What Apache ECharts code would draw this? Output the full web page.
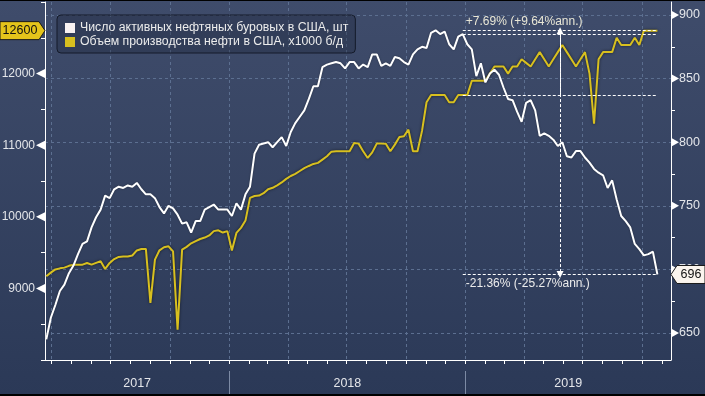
<!DOCTYPE html>
<html>
<head>
<meta charset="utf-8">
<script src="https://cdn.jsdelivr.net/npm/echarts@6/dist/echarts.min.js"></script>
<style>
html,body{margin:0;padding:0;background:#2c3a57;}
#c{width:705px;height:396px;}
</style>
</head>
<body>
<div id="c"></div>
<script>
// ---------------- DATA ----------------
const rigName = 'Число активных нефтяных буровых в США, шт';
const prodName = 'Объем производства нефти в США, x1000 б/д';
// weekly observations (Fridays) starting 2017-03-24
const firstWeek = [2017, 2, 24];
const rigs = [
  645, 662, 672, 683, 688, 697, 703, 712, 720, 722,
  733, 741, 747, 758, 756, 763, 765, 764, 766, 765,
  768, 763, 759, 759, 756, 749, 744, 750, 748, 743,
  736, 737, 729, 738, 738, 747, 749, 751, 747, 747,
  747, 742, 752, 747, 759, 765, 791, 798, 799, 800,
  796, 800, 804, 797, 808, 815, 820, 825, 834, 844,
  844, 859, 861, 862, 863, 862, 858, 863, 863, 858,
  861, 859, 869, 869, 860, 862, 860, 867, 866, 863,
  861, 869, 873, 875, 874, 886, 888, 885, 887, 877,
  873, 883, 885, 877, 873, 852, 862, 847, 854, 857,
  853, 843, 834, 833, 824, 816, 831, 833, 825, 805,
  807, 805, 802, 797, 800, 789, 788, 793, 793, 788,
  784, 779, 776, 774, 764, 770, 755, 742, 738, 733,
  720, 716, 711, 712, 714, 696
];
const production = [
  9170, 9220, 9265, 9280, 9290, 9315, 9330, 9330, 9332, 9355,
  9332, 9356, 9379, 9272, 9356, 9410, 9440, 9445, 9445, 9460,
  9530, 9551, 9551, 8798, 9402, 9532, 9575, 9588, 9518, 8425,
  9542, 9580, 9630, 9660, 9690, 9710, 9740, 9800, 9811, 9780,
  9800, 9528, 9775, 9845, 9947, 10264, 10290, 10296, 10330, 10385,
  10405, 10440, 10480, 10530, 10570, 10600, 10640, 10680, 10710, 10738,
  10753, 10799, 10845, 10910, 10915, 10915, 10915, 10915, 11030, 11022,
  10915, 10822, 10900, 11022, 11022, 11020, 10915, 11008, 11116, 11125,
  11218, 10915, 10915, 11200, 11600, 11700, 11700, 11700, 11700, 11600,
  11600, 11700, 11700, 11700, 11900, 11900, 11900, 11900, 12000, 12100,
  12100, 12100, 12000, 12100, 12100, 12200, 12150, 12100, 12200, 12300,
  12200, 12100, 12200, 12300, 12400, 12300, 12200, 12100, 12200, 12300,
  12000, 11300, 12200, 12300, 12300, 12300, 12500, 12400, 12400, 12400,
  12500, 12400, 12600, 12600, 12600, 12600
];
const leftMajorTicks = [9000, 10000, 11000, 12000];
const rightMajorTicks = [650, 700, 750, 800, 850, 900];
const yearLabels = ['2017', '2018', '2019'];
const axisStart = [2017, 2, 22];
const axisEnd = [2019, 10, 15];
const trendStartIndex = 92;   // 2018-12-28
const trendUpText = '+7.69% (+9.64%ann.)';
const trendDownText = '-21.36% (-25.27%ann.)';

// ---------------- LAYOUT / STYLE ----------------
const FONT = 'Liberation Sans, Arial, sans-serif';
const W = 705, H = 396;
const G = {left: 45, right: 34, top: 2, bottom: 36};          // main plot
const G2 = {left: 45, right: 34, top: 15, bottom: 63};        // right tick overlay (650..900)
const plotTop = G.top, plotBottom = H - G.bottom;
const g2Top = G2.top, g2Bottom = H - G2.bottom;
const rPerPx = 250 / (g2Bottom - g2Top);
const rightMin = 650 - (plotBottom - g2Bottom) * rPerPx;
const rightMax = 900 + (g2Top - plotTop) * rPerPx;
const YELLOW = '#d8c01f';
const GRIDC = '#5c6f90';
const LABELC = '#e4e6ea';

const weeks = rigs.map((_, i) => new Date(firstWeek[0], firstWeek[1], firstWeek[2] + 7 * i).getTime());
const xMin = new Date(axisStart[0], axisStart[1], axisStart[2]).getTime();
const xMax = new Date(axisEnd[0], axisEnd[1], axisEnd[2]).getTime();
const last = rigs.length - 1;
const t0 = weeks[trendStartIndex], t1 = weeks[last], tm = (t0 + t1) / 2;

const chart = echarts.init(document.getElementById('c'), null, {renderer: 'canvas'});

const dashed = {color: '#ffffff', width: 1, type: [3, 2]};
const option = {
  animation: false,
  backgroundColor: {type: 'linear', x: 0, y: 0, x2: 0, y2: 1,
    colorStops: [{offset: 0, color: '#3f4c6b'}, {offset: 1, color: '#2b3957'}]},
  textStyle: {fontFamily: FONT},
  grid: [
    Object.assign({outerBoundsMode: 'none', containLabel: false}, G),
    Object.assign({outerBoundsMode: 'none', containLabel: false}, G2)
  ],
  legend: {
    orient: 'vertical', left: 57, top: 15,
    padding: [7, 7, 5, 8], itemWidth: 10, itemHeight: 10, itemGap: 2, itemTextGap: 5,
    icon: 'rect', data: [rigName, prodName],
    textStyle: {color: '#ececec', fontSize: 12.3, fontFamily: FONT},
    backgroundColor: 'rgba(28,37,56,0.35)', borderColor: '#141b2a', borderWidth: 1, borderRadius: 4,
    selectedMode: false
  },
  xAxis: [
    {type: 'time', gridIndex: 0, min: xMin, max: xMax,
     axisLine: {show: true, lineStyle: {color: '#ffffff', width: 1}},
     axisTick: {show: false}, axisLabel: {show: false}, splitLine: {show: false}},
    {type: 'time', gridIndex: 1, min: xMin, max: xMax, show: false}
  ],
  yAxis: [
    {type: 'value', gridIndex: 0, position: 'left', min: 8000, max: 13000, interval: 500,
     axisLine: {show: true, lineStyle: {color: '#ffffff', width: 1}},
     axisTick: {show: true, length: 4, lineStyle: {color: '#ffffff'}},
     axisLabel: {show: true, margin: 10, color: LABELC, fontSize: 12, fontFamily: FONT,
       formatter: v => (leftMajorTicks.indexOf(v) >= 0 ? String(v) : '')},
     splitLine: {show: false}},
    {type: 'value', gridIndex: 0, position: 'right', min: rightMin, max: rightMax,
     axisLine: {show: true, lineStyle: {color: '#ffffff', width: 1}},
     axisTick: {show: false}, axisLabel: {show: false}, splitLine: {show: false}},
    {type: 'value', gridIndex: 1, position: 'right', min: 650, max: 900, interval: 50,
     axisLine: {show: false}, axisTick: {show: false},
     minorTick: {show: true, splitNumber: 2, length: 4, lineStyle: {color: '#ffffff'}},
     axisLabel: {show: true, margin: 8, color: LABELC, fontSize: 12.5, fontFamily: FONT},
     splitLine: {show: true, lineStyle: {color: GRIDC, type: [3, 3], width: 1}}}
  ],
  series: [
    {name: prodName, type: 'line', xAxisIndex: 0, yAxisIndex: 0, z: 2,
     data: weeks.map((t, i) => [t, production[i]]),
     symbol: 'none', showSymbol: false, emphasis: {disabled: true},
     itemStyle: {color: YELLOW},
     lineStyle: {color: YELLOW, width: 2, shadowColor: 'rgba(0,0,0,0.6)', shadowBlur: 3},
     markLine: {
       silent: true, animation: false, symbol: ['none', 'none'],
       lineStyle: dashed, emphasis: {disabled: true},
       label: {show: false},
       data: [
         [{coord: [t0, production[trendStartIndex]]}, {coord: [t1, production[trendStartIndex]]}],
         [{coord: [t0, production[last]],
           label: {show: true, position: 'insideStartTop', formatter: trendUpText,
                   color: '#e9e7d6', fontSize: 12, fontFamily: FONT, distance: 3}},
          {coord: [t1, production[last]]}],
         [{coord: [tm, production[trendStartIndex]]},
          {coord: [tm, production[last]], symbol: 'triangle', symbolSize: [7, 7]}]
       ]
     }},
    {name: rigName, type: 'line', xAxisIndex: 0, yAxisIndex: 1, z: 3,
     data: weeks.map((t, i) => [t, rigs[i]]),
     symbol: 'none', showSymbol: false, emphasis: {disabled: true},
     itemStyle: {color: '#f8f2f2'},
     lineStyle: {color: '#ffffff', width: 2, shadowColor: 'rgba(0,0,0,0.35)', shadowBlur: 2},
     markLine: {
       silent: true, animation: false, symbol: ['none', 'none'],
       lineStyle: dashed, emphasis: {disabled: true},
       label: {show: false},
       data: [
         [{coord: [t0, rigs[trendStartIndex]]}, {coord: [t1, rigs[trendStartIndex]]}],
         [{coord: [t0, rigs[last]],
           label: {show: true, position: 'insideStartBottom', formatter: trendDownText,
                   color: '#ececec', fontSize: 12, fontFamily: FONT, distance: 3}},
          {coord: [t1, rigs[last]]}],
         [{coord: [tm, rigs[trendStartIndex]]},
          {coord: [tm, rigs[last]], symbol: 'triangle', symbolSize: [7, 7]}]
       ]
     }}
  ]
};
chart.setOption(option);

// ---------- decorations positioned through the library's scales ----------
const gfx = [];
const xOf = t => chart.convertToPixel({xAxisIndex: 0}, t);
const xLeft = xOf(xMin), xRight = xOf(xMax);

// month ticks + quarter grid lines
for (let y = axisStart[0]; y <= axisEnd[0]; y++) {
  for (let m = 0; m < 12; m++) {
    const t = new Date(y, m, 1).getTime();
    if (t <= xMin || t >= xMax) continue;
    const x = Math.round(xOf(t)) + 0.5;
    gfx.push({type: 'line', silent: true, z: 1,
      shape: {x1: x, y1: plotBottom, x2: x, y2: plotBottom + 4},
      style: {stroke: '#ffffff', lineWidth: 1}});
    if (m % 3 === 0) {
      gfx.push({type: 'line', silent: true, z: 0,
        shape: {x1: x, y1: plotTop, x2: x, y2: plotBottom},
        style: {stroke: GRIDC, lineWidth: 1, lineDash: [3, 3]}});
    }
  }
}
// year separators + labels
yearLabels.forEach(lbl => {
  const yr = +lbl;
  const a = Math.max(xLeft, xOf(new Date(yr, 0, 1).getTime()));
  const b = Math.min(xRight, xOf(new Date(yr + 1, 0, 1).getTime()));
  gfx.push({type: 'text', silent: true, z: 5,
    style: {text: lbl, x: (a + b) / 2, y: 384, align: 'center', verticalAlign: 'middle',
            fill: LABELC, font: '12.5px ' + FONT}});
  const s = new Date(yr, 0, 1).getTime();
  if (s > xMin && s < xMax) {
    const x = Math.round(xOf(s)) + 0.5;
    gfx.push({type: 'line', silent: true, z: 1,
      shape: {x1: x, y1: 371, x2: x, y2: 394},
      style: {stroke: '#7c8aa4', lineWidth: 1}});
  }
});
// axis triangles
const axL = G.left, axR = W - G.right;
leftMajorTicks.forEach(v => {
  const y = chart.convertToPixel({yAxisIndex: 0}, v);
  gfx.push({type: 'polygon', silent: true, z: 6,
    shape: {points: [[axL, y - 4.5], [axL, y + 4.5], [axL - 9, y]]}, style: {fill: '#ffffff'}});
});
rightMajorTicks.forEach(v => {
  const y = chart.convertToPixel({yAxisIndex: 1}, v);
  gfx.push({type: 'polygon', silent: true, z: 6,
    shape: {points: [[axR, y - 4.5], [axR, y + 4.5], [axR + 8, y]]}, style: {fill: '#ffffff'}});
});
// last-value tags
const yP = chart.convertToPixel({yAxisIndex: 0}, production[last]);
gfx.push({type: 'polygon', silent: true, z: 20,
  shape: {points: [[0, yP - 9], [39, yP - 9], [45, yP], [39, yP + 9], [0, yP + 9]]},
  style: {fill: '#e4c41b', stroke: '#1b1b1b', lineWidth: 1}});
gfx.push({type: 'text', silent: true, z: 21,
  style: {text: String(production[last]), x: 20, y: yP, align: 'center', verticalAlign: 'middle',
          fill: '#111111', font: '12.5px ' + FONT}});
const yR = chart.convertToPixel({yAxisIndex: 1}, rigs[last]);
gfx.push({type: 'polygon', silent: true, z: 20,
  shape: {points: [[axR, yR], [axR + 6, yR - 9], [W, yR - 9], [W, yR + 9], [axR + 6, yR + 9]]},
  style: {fill: '#fbf5ee', stroke: '#1b1b1b', lineWidth: 1}});
gfx.push({type: 'text', silent: true, z: 21,
  style: {text: String(rigs[last]), x: axR + 20, y: yR, align: 'center', verticalAlign: 'middle',
          fill: '#111111', font: '12.5px ' + FONT}});
// frame lines
gfx.push({type: 'rect', silent: true, z: 30, shape: {x: 0, y: 0, width: W, height: 1}, style: {fill: '#000'}});
gfx.push({type: 'rect', silent: true, z: 30, shape: {x: 0, y: H - 2, width: W, height: 2}, style: {fill: '#000'}});

chart.setOption({graphic: gfx});
</script>
</body>
</html>
